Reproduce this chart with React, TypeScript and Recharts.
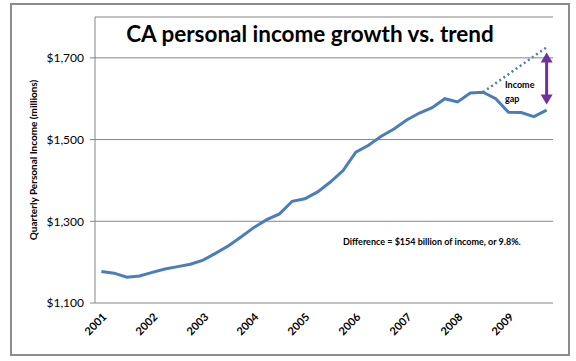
import { LineChart, Line, XAxis, YAxis, CartesianGrid, ReferenceLine } from 'recharts';

// quarterly CA personal income ($ millions), 2001 Q1 .. 2009 Q4
const years = ['2001', '2002', '2003', '2004', '2005', '2006', '2007', '2008', '2009'];
const quarterNames = ['Q1', 'Q2', 'Q3', 'Q4'];
const quarters = years.flatMap((y) => quarterNames.map((q) => `${y} ${q}`));

const income = [
  1177, 1173, 1163, 1166, 1175, 1183, 1189, 1195, 1205, 1222, 1240, 1262,
  1285, 1304, 1318, 1349, 1355, 1372, 1396, 1424, 1469, 1486, 1508, 1526,
  1548, 1565, 1578, 1600, 1592, 1614, 1616, 1600, 1567, 1566, 1556, 1572,
];

// pre-recession trend, drawn as a straight dotted line between its two ends
const trendQuarters = ['2008 Q3', '2009 Q4'];
const trendValues = [1616, 1726];

// income gap arrow (bottom / top)
const gapArrow = [1586, 1713];

const yTicks = [1100, 1300, 1500, 1700];

const data = quarters.map((q, i) => {
  const t = trendQuarters.indexOf(q);
  return { x: i + 0.5, quarter: q, income: income[i], trend: t >= 0 ? trendValues[t] : null };
});

// quarter boundaries get tick marks, year labels sit on each year's first quarter
const tickMarks = [...quarters.map((_, i) => i), quarters.length];
const yearTicks = years.map((_, i) => i * 4 + 0.5);

const AXIS = '#868686';
const FONT = 'Lato, "Open Sans", sans-serif';

// label drawn as rotated html so the -45° slant survives any renderer
const YearTick = ({ x, y, payload }: any) => (
  <foreignObject x={x - 60} y={y} width={70} height={50} style={{ overflow: 'visible' }}>
    <div
      style={{
        position: 'absolute',
        right: 7,
        top: 6,
        lineHeight: '12px',
        fontFamily: FONT,
        fontWeight: 'bold',
        fontSize: 11,
        color: '#000',
        whiteSpace: 'nowrap',
        transformOrigin: '100% 50%',
        transform: 'rotate(-45deg)',
      }}
    >
      {years[Math.floor(payload.value / 4)]}
    </div>
  </foreignObject>
);

const GapArrow = ({ x1, y1, x2, y2 }: any) => {
  const x = x1;
  const top = Math.min(y1, y2);
  const bottom = Math.max(y1, y2);
  const c = '#7030A0';
  return (
    <g>
      <line x1={x} x2={x2} y1={top + 8} y2={bottom - 8} stroke={c} strokeWidth={3} />
      <polygon points={`${x},${top} ${x - 6},${top + 10} ${x + 6},${top + 10}`} fill={c} />
      <polygon points={`${x},${bottom} ${x - 6},${bottom - 10} ${x + 6},${bottom - 10}`} fill={c} />
    </g>
  );
};

export default function App() {
  return (
    <div style={{ position: 'absolute', left: 0, top: 0, width: 576, height: 361, background: '#fff', fontFamily: FONT }}>
      <div
        style={{
          position: 'absolute',
          left: 10,
          top: 3,
          width: 556,
          height: 349,
          border: '2px solid #8c8c8c',
        }}
      />
      <LineChart width={576} height={361} data={data} margin={{ top: 17, right: 23, bottom: 0, left: 35 }}>
        <CartesianGrid vertical={false} stroke={AXIS} strokeWidth={1} />
        {/* tick marks only */}
        <XAxis
          xAxisId="marks"
          dataKey="x"
          type="number"
          domain={[0, quarters.length]}
          ticks={tickMarks}
          interval={0}
          tick={false}
          tickSize={5}
          tickLine={{ stroke: AXIS }}
          axisLine={{ stroke: AXIS }}
          height={0}
        />
        {/* year labels */}
        <XAxis
          xAxisId="years"
          dataKey="x"
          type="number"
          domain={[0, quarters.length]}
          ticks={yearTicks}
          interval={0}
          tick={<YearTick />}
          tickLine={false}
          axisLine={false}
          tickSize={0}
          tickMargin={0}
          height={58}
        />
        <YAxis
          domain={[1100, 1800]}
          ticks={yTicks}
          interval={0}
          width={60}
          tickSize={5}
          tickMargin={6}
          tickLine={{ stroke: AXIS }}
          axisLine={{ stroke: AXIS }}
          tickFormatter={(v: number) => `$${v.toLocaleString('en-US')}`}
          tick={{ fontSize: 12, fill: '#000', fontFamily: FONT }}
        />
        <Line
          xAxisId="marks"
          dataKey="trend"
          stroke="#4A7EBB"
          strokeWidth={2.5}
          strokeDasharray="2 3"
          dot={false}
          activeDot={false}
          connectNulls
          isAnimationActive={false}
        />
        <Line
          xAxisId="marks"
          dataKey="income"
          stroke="#4A7EBB"
          strokeWidth={3}
          dot={false}
          activeDot={false}
          isAnimationActive={false}
        />
        <ReferenceLine
          xAxisId="marks"
          segment={[
            { x: quarters.length - 0.5, y: gapArrow[0] },
            { x: quarters.length - 0.5, y: gapArrow[1] },
          ]}
          shape={<GapArrow />}
        />
      </LineChart>
      <div
        style={{
          position: 'absolute',
          left: 0,
          width: 620,
          top: 20,
          textAlign: 'center',
          fontSize: 22.5,
          fontWeight: 'bold',
          color: '#000',
        }}
      >
        CA personal income growth vs. trend
      </div>
      <div
        style={{
          position: 'absolute',
          left: 33,
          top: 160,
          transform: 'translate(-50%, -50%) rotate(-90deg)',
          whiteSpace: 'nowrap',
          fontSize: 10,
          fontWeight: 'bold',
          color: '#000',
        }}
      >
        Quarterly Personal Income (millions)
      </div>
      <div
        style={{
          position: 'absolute',
          left: 505,
          top: 78,
          fontSize: 9,
          lineHeight: '14px',
          fontWeight: 'bold',
          color: '#000',
        }}
      >
        Income
        <br />
        gap
      </div>
      <div
        style={{
          position: 'absolute',
          left: 343,
          top: 236,
          fontSize: 9,
          fontWeight: 'bold',
          color: '#000',
          whiteSpace: 'nowrap',
        }}
      >
        Difference = $154 billion of income, or 9.8%.
      </div>
    </div>
  );
}
